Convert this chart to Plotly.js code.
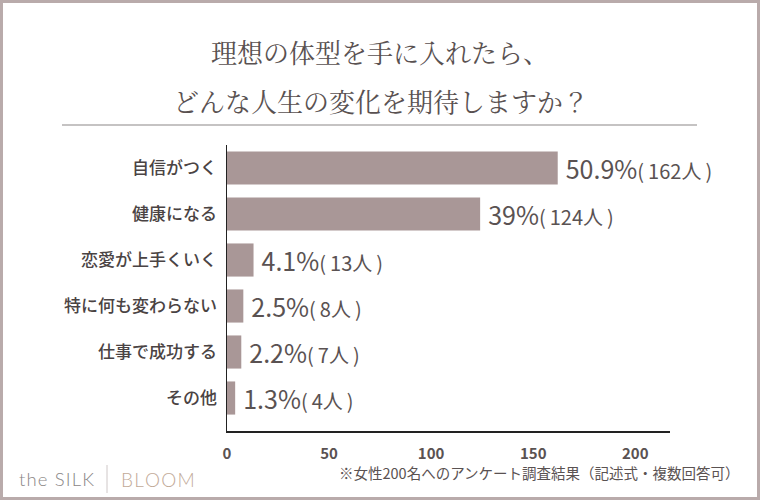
<!DOCTYPE html>
<html>
<head>
<meta charset="utf-8">
<script src="https://cdn.plot.ly/plotly-3.0.1.min.js"></script>
<style>
html,body{margin:0;padding:0;background:#fff;}
#wrap{position:relative;width:760px;height:500px;}
#chart{width:760px;height:500px;}
#frame{position:absolute;left:0;top:0;width:760px;height:500px;box-sizing:border-box;border:3px solid #b9abab;pointer-events:none;}
</style>
</head>
<body>
<div id="wrap"><div id="chart"></div><div id="frame"></div></div>
<script>
const categories = ["自信がつく", "健康になる", "恋愛が上手くいく", "特に何も変わらない", "仕事で成功する", "その他"];
const counts = [162, 124, 13, 8, 7, 4];
const percents = ["50.9", "39", "4.1", "2.5", "2.2", "1.3"];
const tickValues = [0, 50, 100, 150, 200];
const titleLines = ["理想の体型を手に入れたら、", "どんな人生の変化を期待しますか？"];
const noteText = "※女性200名へのアンケート調査結果（記述式・複数回答可）";

const W = 760, H = 500;
const L = 227, R = 90, T = 145, B = 69;
const plotW = W - L - R, plotH = H - T - B;
const px = x => (x - L) / plotW;
const py = y => 1 - (y - T) / plotH;
const spaced = s => s.split('').join('\u200a');

const labels = percents.map((p, i) =>
  '\u2009' + p + '%<span style="font-size:20px">(\u2009' + counts[i] + '人\u2009)</span>');

const jp = '"Noto Sans CJK JP", "Noto Sans", sans-serif';
const textCol = '#5a5252';

const trace = {
  type: 'bar',
  orientation: 'h',
  y: categories,
  x: counts,
  text: labels,
  textposition: 'outside',
  texttemplate: '%{text}',
  constraintext: 'none',
  cliponaxis: false,
  textfont: {family: jp, size: 25, color: textCol, weight: 400},
  marker: {color: '#a99797'},
  hoverinfo: 'none'
};

const annotations = [
  {text: titleLines[0], x: px(380), y: py(52)},
  {text: titleLines[1], x: px(381), y: py(100)}
].map(a => Object.assign(a, {xref: 'paper', yref: 'paper', showarrow: false,
  xanchor: 'center', yanchor: 'middle',
  font: {family: '"Noto Serif CJK JP", "Noto Sans CJK JP", serif', size: 26, color: '#595151'}}));

annotations.push({text: noteText, xref: 'paper', yref: 'paper', x: px(742), y: py(472),
  xanchor: 'right', yanchor: 'middle', showarrow: false,
  font: {family: jp, size: 14.5, color: textCol}});
annotations.push({text: spaced('the SILK'), xref: 'paper', yref: 'paper', x: px(17), y: py(479),
  xanchor: 'left', yanchor: 'middle', showarrow: false,
  font: {family: 'Lato, "Noto Sans", sans-serif', size: 18.5, color: '#8a8686', weight: 300}});
annotations.push({text: spaced('BLOOM'), xref: 'paper', yref: 'paper', x: px(119), y: py(479),
  xanchor: 'left', yanchor: 'middle', showarrow: false,
  font: {family: 'Lato, "Noto Sans", sans-serif', size: 19, color: '#c2aa98', weight: 300}});

const shapes = [
  {type: 'line', xref: 'paper', yref: 'paper', x0: px(62), x1: px(697), y0: py(125), y1: py(125),
   line: {color: '#8c8888', width: 1.2}},
  {type: 'line', xref: 'paper', yref: 'paper', x0: px(107), x1: px(107), y0: py(465), y1: py(493),
   line: {color: '#cfc8c8', width: 1}}
];

const layout = {
  width: W, height: H,
  margin: {l: L, r: R, t: T, b: B, pad: 0},
  paper_bgcolor: '#fff', plot_bgcolor: '#fff',
  showlegend: false,
  bargap: 0.28,
  xaxis: {
    range: [0, 217], tickvals: tickValues, ticks: '', showgrid: false, zeroline: false,
    showline: true, linecolor: '#222', linewidth: 1.5, ticklabelstandoff: 8,
    tickfont: {family: jp, size: 15, color: textCol, weight: 700}, fixedrange: true
  },
  yaxis: {
    type: 'category', range: [5.717, -0.5], ticks: '', showgrid: false, zeroline: false,
    showline: true, linecolor: '#222', linewidth: 1.5, ticklabelstandoff: 5,
    tickfont: {family: jp, size: 17, color: '#4a4343', weight: 500}, fixedrange: true
  },
  annotations: annotations,
  shapes: shapes
};

Plotly.newPlot('chart', [trace], layout, {displayModeBar: false, staticPlot: true});
</script>
</body>
</html>
